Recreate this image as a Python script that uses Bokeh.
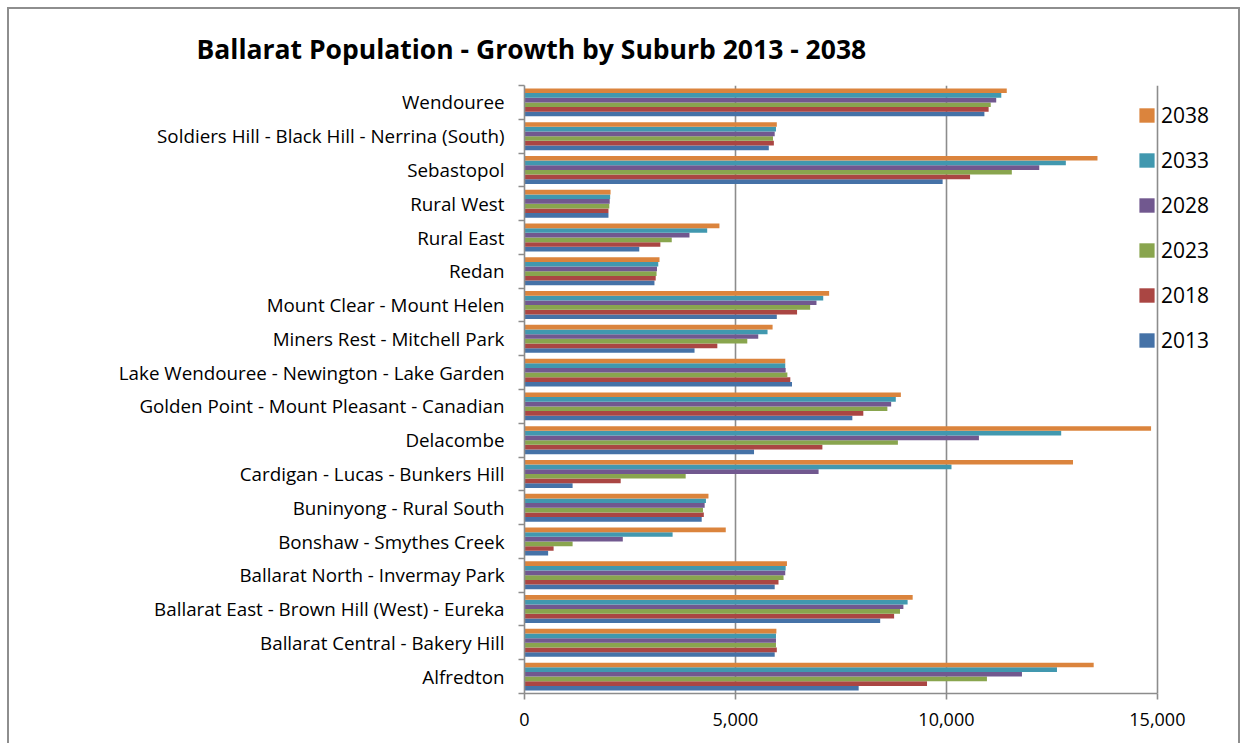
from bokeh.plotting import figure
from bokeh.models import (ColumnDataSource, FactorRange, Range1d, LinearAxis, CategoricalAxis,
                          FixedTicker, NumeralTickFormatter, Legend, LegendItem, Title)
from bokeh.transform import dodge
from bokeh.embed import file_html
from bokeh.resources import INLINE

# Suburbs as listed top to bottom in the chart
suburbs = [
    "Wendouree",
    "Soldiers Hill - Black Hill - Nerrina (South)",
    "Sebastopol",
    "Rural West",
    "Rural East",
    "Redan",
    "Mount Clear - Mount Helen",
    "Miners Rest - Mitchell Park",
    "Lake Wendouree - Newington - Lake Garden",
    "Golden Point - Mount Pleasant - Canadian",
    "Delacombe",
    "Cardigan - Lucas - Bunkers Hill",
    "Buninyong - Rural South",
    "Bonshaw - Smythes Creek",
    "Ballarat North - Invermay Park",
    "Ballarat East - Brown Hill (West) - Eureka",
    "Ballarat Central - Bakery Hill",
    "Alfredton",
]

years = ["2013", "2018", "2023", "2028", "2033", "2038"]

pop_2013 = [10900, 5790, 9910, 1990, 2720, 3080, 5980, 4030, 6340, 7770, 5440, 1140, 4200, 560, 5930, 8430, 5930, 7920]
pop_2018 = [11000, 5910, 10560, 1990, 3220, 3110, 6460, 4570, 6300, 8030, 7060, 2280, 4250, 690, 6020, 8760, 5980, 9540]
pop_2023 = [11050, 5890, 11550, 2010, 3490, 3130, 6770, 5280, 6230, 8600, 8850, 3820, 4230, 1140, 6140, 8900, 5960, 10960]
pop_2028 = [11180, 5930, 12200, 2020, 3910, 3140, 6920, 5540, 6190, 8690, 10770, 6970, 4270, 2330, 6180, 8980, 5960, 11790]
pop_2033 = [11300, 5960, 12830, 2030, 4330, 3170, 7080, 5760, 6180, 8800, 12720, 10120, 4300, 3510, 6190, 9080, 5960, 12620]
pop_2038 = [11430, 5980, 13580, 2040, 4620, 3200, 7220, 5880, 6180, 8920, 14850, 13000, 4360, 4770, 6220, 9200, 5970, 13490]

colors = ["#4572A7", "#AA4643", "#89A54E", "#71588F", "#4198AF", "#DB843D"]

x_ticks = [0, 5000, 10000, 15000]
x_max = 15000

FONT = "Open Sans"

source = ColumnDataSource(data={
    "suburb": suburbs,
    "2013": pop_2013, "2018": pop_2018, "2023": pop_2023,
    "2028": pop_2028, "2033": pop_2033, "2038": pop_2038,
})

p = figure(
    width=1233, height=736,
    y_range=FactorRange(factors=list(reversed(suburbs)), range_padding=0),
    x_range=Range1d(0, 16780),
    output_backend="svg", toolbar_location=None,
    x_axis_location=None, y_axis_location=None,
    min_border_left=515, min_border_right=10, min_border_top=76, min_border_bottom=52,
)
p.outline_line_color = None
p.background_fill_color = "white"
p.border_fill_color = "white"
p.styles = {"border-top": "2px solid #8e8e8e", "border-left": "2px solid #8e8e8e",
            "border-right": "2px solid #8e8e8e", "margin-left": "7px", "margin-top": "7px"}

# Title
t = Title(text="Ballarat Population - Growth by Suburb 2013 - 2038", align="left",
          text_font=FONT, text_font_style="bold", text_font_size="26.5px",
          text_color="black", offset=-328, standoff=37)
p.add_layout(t, "above")

# grid
p.xgrid.ticker = FixedTicker(ticks=x_ticks)
p.xgrid.grid_line_color = "#8c8c8c"
p.xgrid.grid_line_width = 1.6
p.ygrid.grid_line_color = None

# Bars
bar_h = 0.138
renderers = {}
for i, (yr, c) in enumerate(zip(years, colors)):
    off = (i - 2.5) * bar_h
    renderers[yr] = p.hbar(y=dodge("suburb", off, range=p.y_range), left=0, right=yr, height=bar_h,
                           source=source, fill_color=c, line_color=None)

# Axes: boundary ticks between categories (synthetic coordinates of the factor range)
n = len(suburbs)
tick_axis = LinearAxis(ticker=FixedTicker(ticks=list(range(n + 1))),
                       major_label_overrides={i: "" for i in range(n + 1)},
                       major_label_standoff=0,
                       major_tick_out=6, major_tick_in=0, minor_tick_line_color=None,
                       axis_line_color="#8c8c8c", axis_line_width=1.6,
                       major_tick_line_color="#8c8c8c", major_tick_line_width=1.6)
p.add_layout(tick_axis, "left")

cat_axis = CategoricalAxis(axis_line_color=None, major_tick_line_color=None,
                           minor_tick_line_color=None, major_label_standoff=8,
                           major_label_text_font=FONT, major_label_text_font_size="18.8px",
                           major_label_text_color="black")
p.add_layout(cat_axis, "left")

x_axis = LinearAxis(ticker=FixedTicker(ticks=x_ticks), formatter=NumeralTickFormatter(format="0,0"),
                    bounds=(0, x_max),
                    major_tick_out=6, major_tick_in=0, minor_tick_line_color=None,
                    axis_line_color="#8c8c8c", axis_line_width=1.6,
                    major_tick_line_color="#8c8c8c", major_tick_line_width=1.6,
                    major_label_text_font=FONT, major_label_text_font_size="18px",
                    major_label_text_color="black", major_label_standoff=13)
p.add_layout(x_axis, "below")

# Legend
items = [LegendItem(label=yr, renderers=[renderers[yr]]) for yr in reversed(years)]
legend = Legend(items=items, location=(613, 339), orientation="vertical",
                glyph_width=19, glyph_height=18, label_height=20, spacing=17,
                label_standoff=5, padding=0, margin=0,
                label_text_font=FONT, label_text_font_size="21px", label_text_color="black",
                background_fill_alpha=0, border_line_alpha=0)
p.add_layout(legend, "center")

open("out.html", "w").write(file_html(p, INLINE))
